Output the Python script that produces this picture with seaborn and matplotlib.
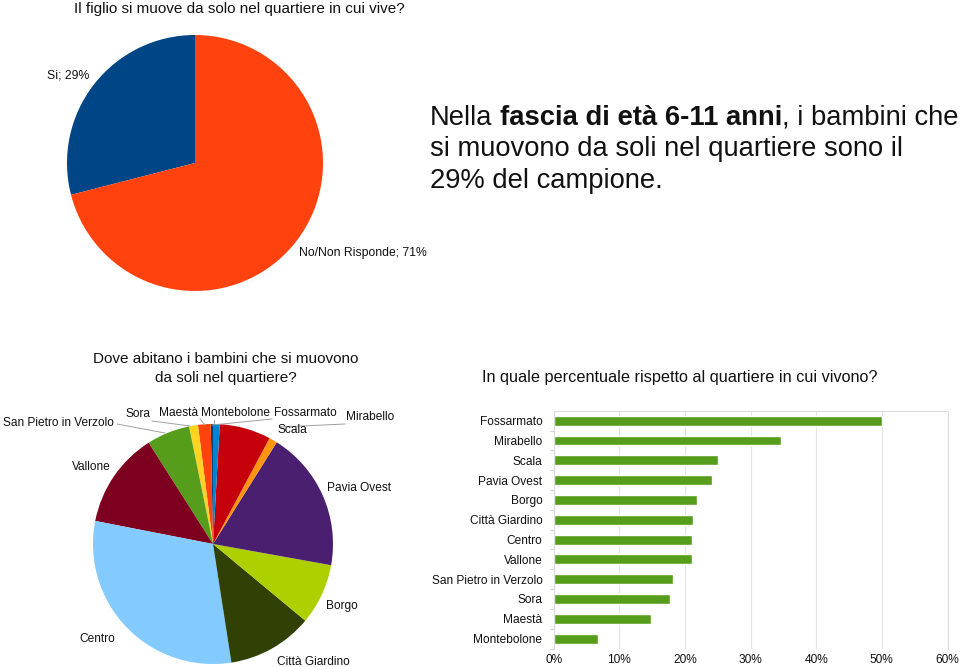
import matplotlib
matplotlib.use("Agg")
import matplotlib.pyplot as plt
from matplotlib.lines import Line2D
import seaborn as sns
import pandas as pd
import numpy as np

W, H = 960, 667

# ---------------- data ----------------
top_title = "Il figlio si muove da solo nel quartiere in cui vive?"
top_labels = ["Si", "No/Non Risponde"]
top_values = [29, 71]
top_colors = ["#004586", "#ff420e"]

info_plain1 = "Nella"
info_bold = "fascia di età 6-11 anni"
info_plain2 = ", i bambini che"
info_line2 = "si muovono da soli nel quartiere sono il"
info_line3 = "29% del campione."

pie_title_lines = ["Dove abitano i bambini che si muovono", "da soli nel quartiere?"]
pie_labels = ["Montebolone", "Maestà", "Sora", "San Pietro in Verzolo", "Vallone",
              "Centro", "Città Giardino", "Borgo", "Pavia Ovest", "Scala",
              "Mirabello", "Fossarmato"]
pie_values = [0.3, 1.7, 1.2, 5.8, 12.9, 30.5, 11.5, 8.2, 18.9, 1.1, 6.9, 0.9]
pie_colors = ["#004586", "#ff420e", "#ffd320", "#579d1c", "#7e0021", "#83caff",
              "#314004", "#aecf00", "#4b1f6f", "#ff950e", "#c5000b", "#0084d1"]

bar_title = "In quale percentuale rispetto al quartiere in cui vivono?"
bar_labels = ["Fossarmato", "Mirabello", "Scala", "Pavia Ovest", "Borgo",
              "Città Giardino", "Centro", "Vallone", "San Pietro in Verzolo",
              "Sora", "Maestà", "Montebolone"]
bar_values = [50.0, 34.7, 25.0, 24.2, 21.8, 21.2, 21.1, 21.1, 18.2, 17.7, 14.9, 6.7]
x_ticks = [0, 10, 20, 30, 40, 50, 60]
x_tick_labels = ["0%", "10%", "20%", "30%", "40%", "50%", "60%"]

# ---------------- style ----------------
sns.set_theme(style="white")
plt.rcParams["font.family"] = ["Liberation Sans", "DejaVu Sans"]
plt.rcParams["text.color"] = "#111111"

fig = plt.figure(figsize=(9.6, 6.67), dpi=100)
fig.patch.set_facecolor("white")


def fx(x):
    return x / W


def fy(y):
    return 1 - y / H


def box(l, t, w, h):
    return [l / W, 1 - (t + h) / H, w / W, h / H]


# ---------------- top pie ----------------
ax1 = fig.add_axes(box(67, 35, 256, 256))
ax1.pie(top_values, colors=top_colors, startangle=90, counterclock=True,
        wedgeprops=dict(linewidth=0))
ax1.set_xlim(-1, 1)
ax1.set_ylim(-1, 1)
ax1.set_aspect("equal")
ax1.axis("off")

fig.text(fx(239), fy(13), top_title, fontsize=11, ha="center", va="baseline")
top_label_pos = [(68, 75), (363, 253)]
for lab, v, (px, py) in zip(top_labels, top_values, top_label_pos):
    fig.text(fx(px), fy(py), f"{lab}; {v}%", fontsize=8.8, ha="center", va="center")

# ---------------- info text ----------------
big = 19.7
renderer = fig.canvas.get_renderer()
x0 = 430
t1 = fig.text(fx(x0), fy(125), info_plain1, fontsize=big, va="baseline")
sp_a = fig.text(0, 0, "a a", fontsize=big)
sp_b = fig.text(0, 0, "aa", fontsize=big)
space_w = sp_a.get_window_extent(renderer).width - sp_b.get_window_extent(renderer).width
sp_a.remove()
sp_b.remove()
x = x0 + t1.get_window_extent(renderer).width + space_w
t2 = fig.text(fx(x), fy(125), info_bold, fontsize=big, fontweight="bold", va="baseline")
x += t2.get_window_extent(renderer).width
fig.text(fx(x), fy(125), info_plain2, fontsize=big, va="baseline")
fig.text(fx(x0), fy(156.5), info_line2, fontsize=big, va="baseline")
fig.text(fx(x0), fy(188), info_line3, fontsize=big, va="baseline")

# ---------------- bottom pie ----------------
ax2 = fig.add_axes(box(93, 424, 240, 240))
ax2.pie(pie_values, colors=pie_colors, startangle=90, counterclock=True,
        wedgeprops=dict(linewidth=0))
ax2.set_xlim(-1, 1)
ax2.set_ylim(-1, 1)
ax2.set_aspect("equal")
ax2.axis("off")

for line, by in zip(pie_title_lines, [363, 382]):
    fig.text(fx(226), fy(by), line, fontsize=11, ha="center", va="baseline")

pie_label_pos = [(235, 413), (179, 413), (137.5, 414), (58, 423), (91, 467),
                 (97, 639), (313, 662), (342, 606), (359, 488), (292, 430),
                 (370, 417), (305, 413)]
for lab, (px, py) in zip(pie_labels, pie_label_pos):
    fig.text(fx(px), fy(py), lab, fontsize=8.6, ha="center", va="center")

leaders = [((117, 424), (165, 433)),
           ((152, 421), (190, 426)),
           ((200, 419), (205, 425)),
           ((214, 420), (214, 424)),
           ((272, 419), (212, 425)),
           ((345, 424), (280, 427))]
for (xa, ya), (xb, yb) in leaders:
    fig.add_artist(Line2D([fx(xa), fx(xb)], [fy(ya), fy(yb)],
                          color="#a0a0a0", lw=0.7, transform=fig.transFigure))

# ---------------- bar chart ----------------
ax3 = fig.add_axes(box(553.6, 410.8, 393.9, 237.7))
df = pd.DataFrame({"quartiere": bar_labels, "perc": bar_values})
sns.barplot(data=df, x="perc", y="quartiere", orient="h", color="#579d1c",
            saturation=1, width=0.5, ax=ax3, order=bar_labels)
ax3.set_xlim(0, 60)
ax3.set_xticks(x_ticks)
ax3.set_xticklabels(x_tick_labels)
ax3.set_xlabel("")
ax3.set_ylabel("")
ax3.set_axisbelow(True)
ax3.xaxis.grid(True, color="#e4e4e4", lw=0.8)
ax3.yaxis.grid(False)
for s in ax3.spines.values():
    s.set_color("#dcdcdc")
    s.set_linewidth(0.8)
ax3.spines["bottom"].set_visible(False)
ax3.set_yticks(np.arange(len(bar_labels)) + 0.5, minor=True)
ax3.tick_params(axis="y", which="minor", length=3, width=0.8, color="#d0d0d0", left=True)
ax3.tick_params(axis="y", which="major", length=0, pad=8, labelsize=8.6, labelcolor="#111111")
ax3.tick_params(axis="x", length=0, pad=4, labelsize=8.6, labelcolor="#111111")

fig.text(fx(679.5), fy(382), bar_title, fontsize=11.7, ha="center", va="baseline")

fig.savefig("out.png", dpi=100, facecolor="white")
